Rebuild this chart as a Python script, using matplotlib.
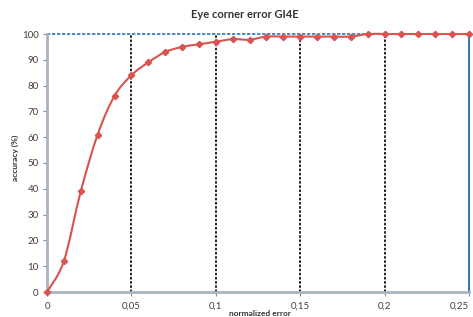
import numpy as np
import matplotlib
matplotlib.use("Agg")
import matplotlib.pyplot as plt
from matplotlib.path import Path
from matplotlib.patches import PathPatch

# data
err = [0.00, 0.01, 0.02, 0.03, 0.04, 0.05, 0.06, 0.07, 0.08, 0.09, 0.10, 0.11, 0.12,
       0.13, 0.14, 0.15, 0.16, 0.17, 0.18, 0.19, 0.20, 0.21, 0.22, 0.23, 0.24, 0.25]
acc = [0, 12, 39, 61, 76, 84, 89, 93, 95, 96, 97, 98, 97.8,
       99, 99, 99, 99, 99, 99, 100, 100, 100, 100, 100, 100, 100]
xticks = [0, 0.05, 0.1, 0.15, 0.2, 0.25]
xticklabels = ["0", "0,05", "0,1", "0,15", "0,2", "0,25"]
yticks = list(range(0, 101, 10))

plt.rcParams['font.family'] = ['Lato', 'DejaVu Sans']

W, H = 473, 317
fig = plt.figure(figsize=(W / 100, H / 100), dpi=100)
ax = fig.add_axes([47 / W, 1 - 292 / H, (469 - 47) / W, (292 - 34) / H])

red = '#d9534f'

# smoothed line like Excel (Catmull-Rom -> bezier segments)
x = np.array(err)
y = np.array(acc, dtype=float)
verts = [(x[0], y[0])]
codes = [Path.MOVETO]
for i in range(len(x) - 1):
    p0 = (x[max(i - 1, 0)], y[max(i - 1, 0)])
    p1 = (x[i], y[i])
    p2 = (x[i + 1], y[i + 1])
    p3 = (x[min(i + 2, len(x) - 1)], y[min(i + 2, len(x) - 1)])
    c1 = (p1[0] + (p2[0] - p0[0]) / 6, p1[1] + (p2[1] - p0[1]) / 6)
    c2 = (p2[0] - (p3[0] - p1[0]) / 6, p2[1] - (p3[1] - p1[1]) / 6)
    verts += [c1, c2, p2]
    codes += [Path.CURVE4] * 3
ax.add_patch(PathPatch(Path(verts, codes), facecolor='none', edgecolor=red,
                       lw=1.5, zorder=4, clip_on=False))
ax.plot(err, acc, linestyle='none', marker='D', ms=3.2, color=red, zorder=5, clip_on=False)

ax.set_xlim(0, 0.25)
ax.set_ylim(0, 100)

# grid lines
for gx in [0.05, 0.1, 0.15, 0.2]:
    ax.axvline(gx, color='black', lw=1.2, ls=(0, (1.5, 1)), zorder=2)
ax.axvline(0.25, color='#2e75b6', lw=1.4, zorder=2, clip_on=False)
ax.axhline(100, color='#2e75b6', lw=1.2, ls=(0, (2, 1)), zorder=2, clip_on=False)

for s in ['top', 'right']:
    ax.spines[s].set_visible(False)
for s in ['left', 'bottom']:
    ax.spines[s].set_color('#a8b4c0')
    ax.spines[s].set_linewidth(2)

ax.set_xticks(xticks)
ax.set_xticklabels(xticklabels)
ax.set_yticks(yticks)
ax.tick_params(axis='both', colors='#7f8a94', labelcolor='#404040', labelsize=7,
               length=3, width=0.8)
ax.tick_params(axis='x', pad=4)
ax.tick_params(axis='y', pad=3)
# last label sits at the right edge; keep it inside the figure
ax.get_xticklabels()[-1].set_horizontalalignment('right')

fig.text(245 / W, 1 - 15 / H, "Eye corner error GI4E", ha='center', va='center',
         fontsize=8, fontweight='bold', color='#333333')
fig.text(15 / W, 1 - 158 / H, "accuracy (%)", ha='center', va='center', rotation=90,
         fontsize=6, fontweight='bold', color='#333333')
fig.text(260 / W, 1 - 313 / H, "normalized error", ha='center', va='center',
         fontsize=6, fontweight='bold', color='#333333')

fig.savefig("out.png", dpi=100)
